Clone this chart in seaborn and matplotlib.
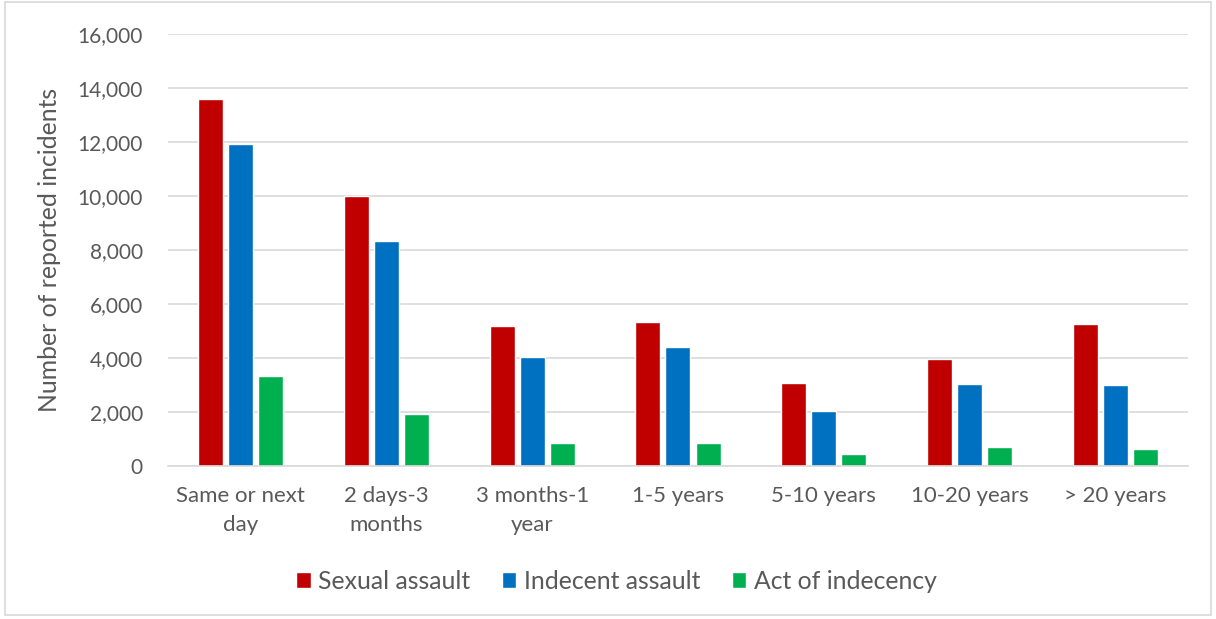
import matplotlib
matplotlib.use('Agg')
import matplotlib.pyplot as plt
import matplotlib.patches as mpatches
from matplotlib.ticker import FuncFormatter
import seaborn as sns
import pandas as pd

categories = ["Same or next\nday", "2 days-3\nmonths", "3 months-1\nyear", "1-5 years",
              "5-10 years", "10-20 years", "> 20 years"]
sexual_assault = [13590, 9990, 5200, 5320, 3080, 3970, 5280]
indecent_assault = [11940, 8340, 4030, 4420, 2050, 3040, 3010]
act_of_indecency = [3320, 1920, 850, 840, 460, 690, 640]
series_names = ["Sexual assault", "Indecent assault", "Act of indecency"]
colors = ["#C00000", "#0070C0", "#00B050"]

rows = []
for name, vals in zip(series_names, [sexual_assault, indecent_assault, act_of_indecency]):
    for cat, v in zip(categories, vals):
        rows.append({"Period": cat, "Offence": name, "Count": v})
df = pd.DataFrame(rows)

sns.set_style("white")
plt.rcParams['font.family'] = ['Lato', 'DejaVu Sans']
text_color = "#595959"

fig = plt.figure(figsize=(12.16, 6.19), dpi=100)
ax = fig.add_axes([0.138, 0.247, 0.839, 0.698])

sns.barplot(data=df, x="Period", y="Count", hue="Offence", palette=colors,
            width=0.62, gap=0.17, ax=ax, legend=True, saturation=1)

ax.set_ylim(0, 16000)
ax.set_yticks(range(0, 16001, 2000))
ax.yaxis.set_major_formatter(FuncFormatter(lambda v, p: f"{int(v):,}"))
ax.grid(axis="y", color="#d9d9d9", linewidth=1.2)
ax.set_axisbelow(True)
for s in ["top", "right", "left"]:
    ax.spines[s].set_visible(False)
ax.spines["bottom"].set_color("#d9d9d9")
ax.spines["bottom"].set_linewidth(1.2)
ax.tick_params(axis="y", length=0, labelsize=15, labelcolor=text_color, pad=18)
ax.tick_params(axis="x", length=0, labelsize=16, labelcolor=text_color, pad=14)
for t in ax.get_xticklabels():
    t.set_linespacing(1.6)
ax.set_xlabel("")
ax.set_ylabel("Number of reported incidents", fontsize=17.8, color=text_color, labelpad=12)

handles, labels = ax.get_legend_handles_labels()
fig.legend(handles, labels, loc="center", bbox_to_anchor=(0.507, 0.061), ncol=3,
           frameon=False, fontsize=17.8, labelcolor=text_color, handlelength=0.57,
           handleheight=0.57, handletextpad=0.3, columnspacing=1.3)
ax.get_legend().remove()

fig.patches.append(mpatches.Rectangle((0.004, 0.006), 0.992, 0.99, transform=fig.transFigure,
                                      fill=False, edgecolor="#d9d9d9", linewidth=1.2))

fig.savefig("out.png", dpi=100)
